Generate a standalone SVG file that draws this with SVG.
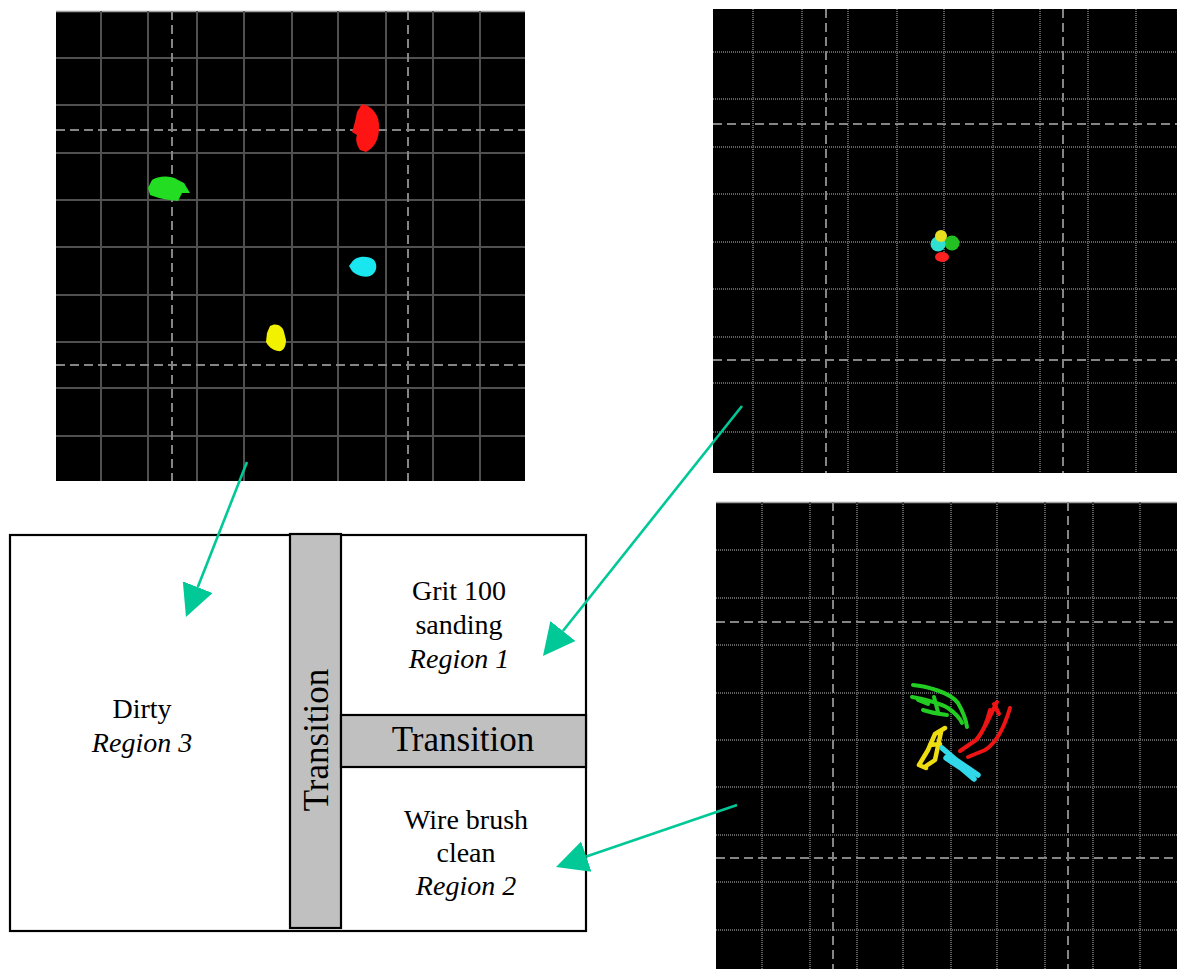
<svg xmlns="http://www.w3.org/2000/svg" width="1177" height="969" viewBox="0 0 1177 969">
<style>
.panel{fill:#000}
.grid{stroke:#505050;stroke-width:2;fill:none}
.grid2{stroke:#5e5e5e;stroke-width:2;fill:none;stroke-dasharray:1 1}
.major{stroke:#858585;stroke-width:2;fill:none;stroke-dasharray:9 5}
.topline{stroke:#a0a0a0;stroke-width:1.5}
.box{fill:#fff;stroke:#000;stroke-width:2.2}
.bar{fill:#c0c0c0;stroke:#000;stroke-width:2.2}
.t{font-family:"Liberation Serif","Times New Roman",serif;font-size:28px;fill:#000;text-anchor:middle}
.i{font-style:italic}
.big{font-size:35px}
.conn{stroke:#00c896;stroke-width:2.6;fill:none}
.scr{fill:none;stroke-linecap:round;stroke-linejoin:round}
</style>
<defs>
<marker id="ah" markerUnits="userSpaceOnUse" markerWidth="34" markerHeight="34" viewBox="0 -17 34 34" refX="0" refY="0" orient="auto">
<path d="M0,-16 L32,0 L0,16 Z" fill="#00c896"/>
</marker>
</defs>

<g id="panel-scattered">
<rect class="panel" x="56" y="11" width="469" height="470"/>
<line class="topline" x1="56" y1="11.5" x2="525" y2="11.5"/>
<path class="grid" d="M101,11V481M148,11V481M197,11V481M244,11V481M292,11V481M338,11V481M386,11V481M433,11V481M480,11V481M56,58H525M56,105H525M56,153H525M56,200H525M56,247H525M56,295H525M56,342H525M56,388H525M56,436H525"/>
<path class="major" d="M172,11V481M408,11V481M56,130H525M56,365H525"/>
<path fill="#ff1414" d="M362,104 C372,106 380,115 379,128 C379,140 374,148 366,152 L360,150 C357,145 355,140 357,135 L352,132 C354,126 356,118 357,112 Z"/>
<path fill="#22dd22" d="M152,180 C158,176 170,175 178,180 L184,183 L190,193 L182,193 L178,201 C170,200 160,199 150,195 L148,188 Z"/>
<path fill="#19e6ee" d="M352,262 C356,256 368,255 374,260 C378,265 377,273 370,276 C364,278 356,275 352,271 L349,266 Z"/>
<path fill="#f2f200" d="M270,326 C276,322 283,326 284,332 L286,340 C286,347 283,352 278,351 C272,350 268,346 266,342 L267,333 Z"/>
</g>

<g id="panel-converged">
<rect class="panel" x="713" y="9" width="464" height="464"/>
<path class="grid2" d="M753,9V473M802,9V473M848,9V473M897,9V473M944,9V473M993,9V473M1040,9V473M1088,9V473M1136,9V473M713,52H1177M713,99H1177M713,147H1177M713,194H1177M713,242H1177M713,289H1177M713,337H1177M713,383H1177M713,432H1177"/>
<path class="major" d="M826,9V473M1063,9V473M713,124H1177M713,360H1177"/>
<ellipse cx="942" cy="257" rx="7" ry="5" fill="#ff2020"/>
<circle cx="952" cy="243" r="7.5" fill="#22c022"/>
<circle cx="938" cy="244" r="7.5" fill="#30e0d0"/>
<circle cx="941" cy="236" r="6" fill="#e6e020"/>
</g>

<g id="panel-spread">
<rect class="panel" x="716" y="502" width="461" height="467"/>
<line class="topline" x1="716" y1="502.5" x2="1177" y2="502.5"/>
<path class="grid2" d="M762,502V969M810,502V969M857,502V969M903,502V969M951,502V969M997,502V969M1045,502V969M1093,502V969M1140,502V969M716,550H1177M716,598H1177M716,645H1177M716,693H1177M716,740H1177M716,787H1177M716,835H1177M716,882H1177M716,930H1177"/>
<path class="major" d="M833,502V969M1068,502V969M716,622H1177M716,858H1177"/>
<path class="scr" stroke="#22cc22" stroke-width="4" d="M913,685 C925,686 950,692 958,703 C962,710 966,720 967,727 M912,697 C922,699 938,702 948,708 C955,713 960,718 962,723 M923,710 C932,713 940,714 947,715 M934,697 L938,712 M918,700 L928,704"/>
<path class="scr" stroke="#ee1414" stroke-width="4" d="M997,702 C990,715 986,728 976,740 L960,751 M1010,708 C1005,725 998,742 985,750 L968,757 M990,710 C987,722 984,730 978,738 M994,704 L999,714"/>
<path class="scr" stroke="#eedd10" stroke-width="4.5" d="M945,728 L935,734 L928,750 L919,765 L926,768 M941,732 L935,760 L926,766 M930,745 L940,744"/>
<path class="scr" stroke="#30d8ea" stroke-width="5.5" d="M942,748 L956,760 L978,775 M946,758 L961,768 L974,779"/>
</g>

<g id="region-dirty">
<rect class="box" x="10" y="535" width="576" height="396"/>
<text class="t" x="142" y="718">Dirty</text>
<text class="t i" x="142" y="752">Region 3</text>
</g>

<g id="region-grit">
<text class="t" x="459" y="600">Grit 100</text>
<text class="t" x="459" y="634">sanding</text>
<text class="t i" x="459" y="668">Region 1</text>
</g>

<g id="region-wire">
<text class="t" x="466" y="829">Wire brush</text>
<text class="t" x="466" y="862">clean</text>
<text class="t i" x="466" y="895">Region 2</text>
</g>

<g id="transition-vertical">
<rect class="bar" x="290" y="534" width="51" height="394"/>
<text class="t big" transform="translate(328,740) rotate(-90)">Transition</text>
</g>

<g id="transition-horizontal">
<rect class="bar" x="341" y="715" width="245" height="52"/>
<text class="t big" x="463" y="751">Transition</text>
</g>

<g id="connectors">
<line class="conn" x1="247" y1="462" x2="197.7" y2="587.2" marker-end="url(#ah)"/>
<line class="conn" x1="742" y1="406" x2="562.9" y2="631" marker-end="url(#ah)"/>
<line class="conn" x1="737" y1="805" x2="586.3" y2="856.6" marker-end="url(#ah)"/>
</g>
</svg>
